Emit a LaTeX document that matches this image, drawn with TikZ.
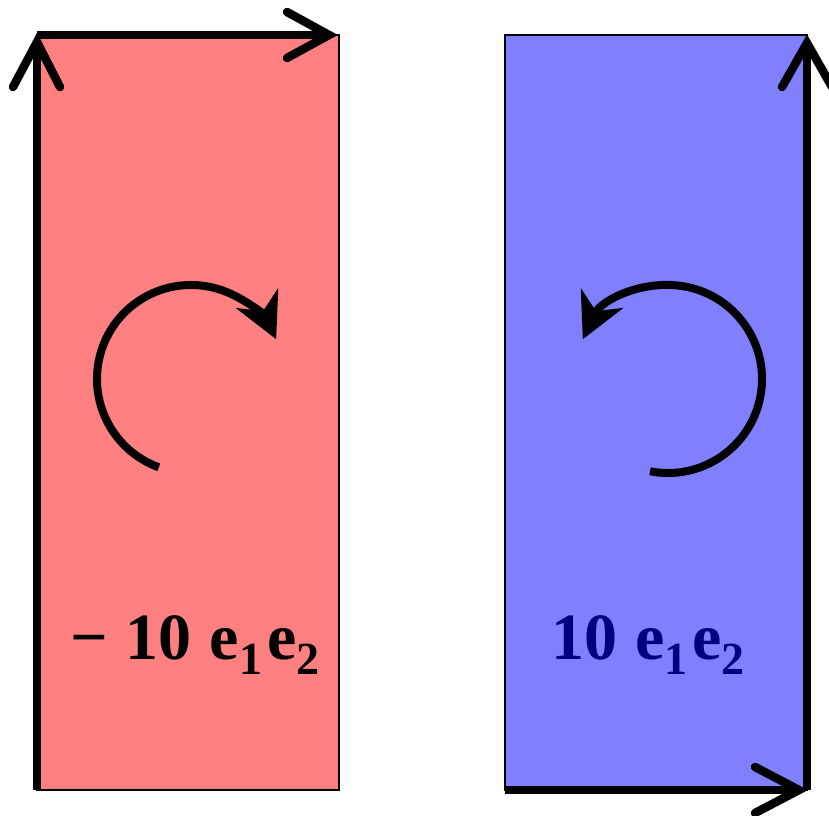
\documentclass[tikz,border=0pt]{standalone}
\usepackage{fontspec}
\setmainfont{Liberation Serif}
\usetikzlibrary{arrows.meta,calc}
\definecolor{redfill}{HTML}{FF8080}
\definecolor{bluefill}{HTML}{8080FF}
\definecolor{navytext}{HTML}{000080}
\newcommand\bvsub[1]{\raisebox{-15pt}{\fontsize{46}{46}\selectfont #1}}
\begin{document}
\begin{tikzpicture}[x=1pt,y=1pt,
  panel/.style={draw=black, line width=1.5pt},
  thickline/.style={line width=8.5pt, line cap=butt},
  barb/.style={line width=8.5pt, line cap=round, line join=miter, miter limit=10},
  rotarrow/.style={line width=8pt, -{Stealth[length=45pt,width=46pt,inset=14pt]}},
  bivlabel/.style={font=\fontsize{66}{66}\selectfont\bfseries, inner sep=0pt, anchor=base west}]
\useasboundingbox (0,0) rectangle (829,815);
% panels
\coordinate (rSW) at (37,25);
\coordinate (rNE) at (339,780);
\coordinate (bSW) at (505,25);
\coordinate (bNE) at (807,780);
\fill[redfill] (rSW) rectangle (rNE);
\fill[bluefill] (bSW) rectangle (bNE);
\draw[panel] (rSW) rectangle (rNE);
\draw[panel] (bSW) rectangle (bNE);
% red panel thick arrows
\coordinate (rBot) at (37,25);
\coordinate (rTopL) at (37,773);
\coordinate (rTopR) at (329,780);
\draw[thickline] (rBot) -- (rTopL);
\draw[barb] ($(rTopL)+(-24,-45)$) -- (rTopL) -- ($(rTopL)+(23,-45)$);
\draw[thickline] (37,780) -- (rTopR);
\draw[barb] ($(rTopR)+(-42,23)$) -- (rTopR) -- ($(rTopR)+(-42,-23)$);
% blue panel thick arrows
\coordinate (bBotL) at (505,25);
\coordinate (bBotR) at (799,25);
\coordinate (bTop) at (807,772);
\draw[thickline] (807,25) -- (bTop);
\draw[barb] ($(bTop)+(-25,-44)$) -- (bTop) -- ($(bTop)+(25,-44)$);
\draw[thickline] (bBotL) -- (bBotR);
\draw[barb] ($(bBotR)+(-44,23)$) -- (bBotR) -- ($(bBotR)+(-44,-23)$);
% rotation arrows
\coordinate (rc) at (191,436);
\coordinate (bc) at (668,436);
\draw[rotarrow] ($(rc)+(250:94)$) arc[start angle=250, end angle=25, radius=94];
\draw[rotarrow] ($(bc)+(-101:94)$) arc[start angle=-101, end angle=155, radius=94];
% labels
\node[bivlabel] (rlab) at (70,156) {−\hspace{18pt}10\hspace{18pt}e\bvsub{1}\hspace{5pt}e\bvsub{2}};
\node[bivlabel, text=navytext] (blab) at (551,156) {10\hspace{18pt}e\bvsub{1}\hspace{5pt}e\bvsub{2}};
\end{tikzpicture}
\end{document}
